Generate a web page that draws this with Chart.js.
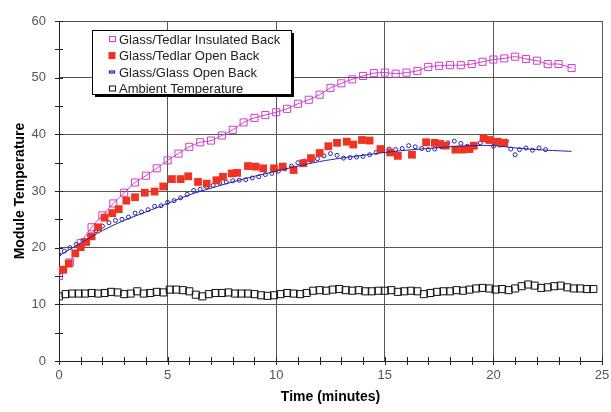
<!DOCTYPE html>
<html>
<head>
<meta charset="utf-8">
<script src="https://cdn.jsdelivr.net/npm/chart.js@4.4.1/dist/chart.umd.min.js"></script>
<style>
  html, body { margin: 0; padding: 0; background: #fff; }
  #wrap { width: 611px; height: 412px; }
</style>
</head>
<body>
<div id="wrap"><canvas id="tempChart" width="611" height="412"></canvas></div>
<script>
// Module temperature readings (deg C) against time (minutes)
const insulatedTime = [0, 0.5, 1, 1.5, 2, 2.5, 3, 3.5, 4, 4.5, 5, 5.5, 6, 6.5, 7, 7.5, 8, 8.5, 9, 9.5,
    10, 10.5, 11, 11.5, 12, 12.5, 13, 13.5, 14, 14.5, 15, 15.5, 16, 16.5, 17, 17.5, 18, 18.5, 19, 19.5,
    20, 20.5, 21, 21.5, 22, 22.5, 23, 23.6];
const insulatedTemp = [15.0, 17.4, 20.8, 23.6, 25.7, 27.8, 29.7, 31.5, 32.7, 34.0, 35.4, 36.6, 37.8, 38.6, 38.9, 39.8, 40.8, 42.1, 42.9, 43.4,
    43.9, 44.5, 45.4, 46.1, 47.0, 48.2, 49.0, 49.7, 50.3, 50.8, 50.9, 50.7, 50.9, 51.2, 51.9, 52.1, 52.2, 52.2, 52.4, 52.8,
    53.2, 53.4, 53.7, 53.3, 53.0, 52.4, 52.4, 51.7];

const openTime = [0, 0.2, 0.45, 0.75, 1, 1.25, 1.5, 1.8, 2.1, 2.45, 2.75, 3.1, 3.5, 3.95, 4.4, 4.8, 5.2, 5.6, 5.95, 6.4,
    6.8, 7.25, 7.55, 7.95, 8.2, 8.7, 9.05, 9.4, 9.9, 10.3, 10.8, 11.25, 11.6, 12, 12.4, 12.8, 13.25, 13.55, 13.95, 14.3,
    14.8, 15.25, 15.6, 16.25, 16.9, 17.3, 17.55, 17.8, 18.25, 18.6, 18.9, 19.1, 19.55, 19.85, 20.2, 20.5];
const openTemp = [16.1, 16.1, 17.2, 19.0, 20.1, 21.0, 22.0, 23.6, 25.3, 26.1, 26.8, 28.3, 28.9, 29.7, 29.9, 30.8, 32.1, 32.1, 32.6, 31.6,
    31.3, 31.9, 32.5, 33.1, 33.2, 34.4, 34.3, 34.0, 34.0, 34.3, 33.7, 34.9, 35.8, 36.7, 37.9, 38.5, 38.7, 38.2, 39.0, 38.9,
    37.4, 36.8, 36.2, 36.4, 38.6, 38.5, 38.3, 38.0, 37.3, 37.3, 37.4, 38.0, 39.3, 39.0, 38.7, 38.5];

const glassTime = [0, 0.25, 0.5, 0.8, 1.1, 1.4, 1.7, 2, 2.3, 2.6, 2.9, 3.2, 3.5, 3.8, 4.1, 4.4, 4.7, 5, 5.3, 5.6,
    5.9, 6.2, 6.5, 6.8, 7.1, 7.4, 7.7, 8, 8.3, 8.6, 8.9, 9.2, 9.5, 9.8, 10.1, 10.4, 10.7, 11, 11.3, 11.6,
    11.9, 12.2, 12.5, 12.8, 13.1, 13.4, 13.7, 14, 14.3, 14.6, 14.9, 15.2, 15.5, 15.8, 16.1, 16.4, 16.7, 17, 17.3, 17.6,
    17.9, 18.2, 18.5, 18.8, 19.1, 19.4, 19.7, 20, 20.3, 20.6, 20.8, 21, 21.2, 21.5, 21.8, 22.1, 22.4];
const glassTemp = [18.8, 19.4, 20.0, 20.6, 21.3, 22.1, 23.0, 23.8, 24.4, 24.8, 25.0, 25.4, 26.1, 26.3, 26.7, 27.3, 27.4, 28.0, 28.3, 28.8,
    29.4, 30.1, 30.3, 30.7, 31.0, 31.4, 31.6, 31.8, 31.9, 32.0, 32.3, 32.5, 32.9, 33.1, 33.5, 33.9, 34.4, 35.0, 35.3, 35.4,
    35.7, 36.2, 36.6, 36.3, 35.8, 35.9, 36.0, 36.1, 36.4, 36.8, 37.3, 37.4, 37.3, 37.5, 38.0, 37.8, 37.5, 37.3, 37.4, 37.8,
    38.5, 38.8, 38.4, 37.9, 38.2, 38.5, 38.8, 37.9, 38.1, 38.8, 37.4, 36.4, 37.3, 37.6, 37.2, 37.6, 37.3];

// smoothed glass/glass curve
const glassFitTime = [0, 1, 2, 3, 4, 5, 6, 7, 8, 9, 10, 11, 12, 13, 14, 15, 16, 17, 18, 19, 20, 21, 22, 23, 23.6];
const glassFitTemp = [18.6, 20.8, 23.0, 24.8, 26.3, 27.8, 29.3, 30.5, 31.6, 32.6, 33.5, 34.4, 35.2, 35.8, 36.3, 36.8, 37.2, 37.5, 37.8, 38.0, 38.0, 37.6, 37.3, 37.1, 37.0];

const ambientTime = [0, 0.3, 0.6, 0.9, 1.2, 1.5, 1.8, 2.1, 2.4, 2.7, 3, 3.3, 3.6, 3.9, 4.2, 4.5, 4.8, 5.1, 5.4, 5.7,
    6, 6.3, 6.6, 6.9, 7.2, 7.5, 7.8, 8.1, 8.4, 8.7, 9, 9.3, 9.6, 9.9, 10.2, 10.5, 10.8, 11.1, 11.4, 11.7,
    12, 12.3, 12.6, 12.9, 13.2, 13.5, 13.8, 14.1, 14.4, 14.7, 15, 15.3, 15.6, 15.9, 16.2, 16.5, 16.8, 17.1, 17.4, 17.7,
    18, 18.3, 18.6, 18.9, 19.2, 19.5, 19.8, 20.1, 20.4, 20.7, 21, 21.3, 21.6, 21.9, 22.2, 22.5, 22.8, 23.1, 23.4, 23.7,
    24, 24.3, 24.6];
const ambientTemp = [11.4, 11.8, 11.9, 11.9, 11.9, 12.0, 11.9, 12.0, 12.2, 12.1, 11.8, 11.9, 12.3, 11.9, 12.0, 12.2, 12.1, 12.6, 12.6, 12.5,
    12.3, 11.7, 11.4, 11.8, 12.0, 12.0, 12.1, 11.9, 11.9, 11.9, 11.8, 11.6, 11.5, 11.6, 11.8, 12.0, 11.9, 11.8, 12.0, 12.4,
    12.5, 12.4, 12.6, 12.7, 12.5, 12.4, 12.5, 12.3, 12.3, 12.4, 12.4, 12.5, 12.2, 12.3, 12.4, 12.3, 11.8, 12.0, 12.2, 12.3,
    12.3, 12.5, 12.4, 12.6, 12.8, 12.9, 12.8, 12.6, 12.7, 12.5, 12.8, 13.2, 13.5, 13.3, 12.9, 13.0, 13.2, 13.3, 13.0, 12.8,
    12.8, 12.7, 12.7];

const xTicks = [0, 5, 10, 15, 20, 25];
const yTicks = [0, 10, 20, 30, 40, 50, 60];

const pts = (xs, ys) => xs.map((x, i) => ({ x: x, y: ys[i] }));

const MAGENTA = '#cc3fcc',
    RED = '#ee3322',
    BLUE = '#2222aa',
    BLACK = '#111111';

// minor tick marks across both axes (every minute / every 5 degrees)
const axisTicks = {
    id: 'axisTicks',
    afterDraw(chart) {
        const { ctx, chartArea, scales } = chart;
        ctx.save();
        ctx.strokeStyle = '#222';
        ctx.lineWidth = 1;
        ctx.beginPath();
        for (let t = 0; t <= 25; t++) {
            const x = Math.round(scales.x.getPixelForValue(t)) + 0.5;
            ctx.moveTo(x, chartArea.bottom - 4);
            ctx.lineTo(x, chartArea.bottom + 4);
        }
        for (let v = 0; v <= 60; v += 5) {
            const y = Math.round(scales.y.getPixelForValue(v)) + 0.5;
            ctx.moveTo(chartArea.left - 4, y);
            ctx.lineTo(chartArea.left + 4, y);
        }
        ctx.stroke();
        ctx.restore();
    }
};

// boxed legend with drop shadow inside the plot
const boxLegend = {
    id: 'boxLegend',
    afterDraw(chart) {
        const ctx = chart.ctx;
        const bx = 92, by = 30, bw = 199, bh = 64;
        ctx.save();
        ctx.fillStyle = '#000';
        ctx.fillRect(bx + 3, by + 3, bw, bh);
        ctx.fillStyle = '#fff';
        ctx.fillRect(bx, by, bw, bh);
        ctx.strokeStyle = '#000';
        ctx.lineWidth = 1;
        ctx.strokeRect(bx + 0.5, by + 0.5, bw, bh);

        const rows = chart.data.datasets.filter(d => !d.hideInLegend)
            .sort((a, b) => a.legendOrder - b.legendOrder);
        ctx.font = '13px "Liberation Sans", Arial, sans-serif';
        ctx.textBaseline = 'middle';
        rows.forEach((d, i) => {
            const y = by + 9 + i * 16.5;
            const mx = 112;
            if (d.pointStyle === 'circle') {
                ctx.strokeStyle = d.borderColor;
                ctx.lineWidth = 1.2;
                ctx.strokeRect(mx - 2.5, y - 1, 5, 2);
            } else {
                const s = d.legendFill ? 7 : 6;
                if (d.legendFill) {
                    ctx.fillStyle = d.borderColor;
                    ctx.fillRect(mx - s / 2, y - s / 2, s, s);
                } else {
                    ctx.strokeStyle = d.borderColor;
                    ctx.lineWidth = 1;
                    ctx.strokeRect(mx - 3 + 0.5, y - 3 + 0.5, s, s - 1);
                }
            }
            ctx.fillStyle = '#222';
            ctx.fillText(d.label, 119, y + 1);
        });
        ctx.restore();
    }
};

const ctx = document.getElementById('tempChart').getContext('2d');
const tempChart = new Chart(ctx, {
    type: 'scatter',
    data: {
        datasets: [
            {
                label: 'Ambient Temperature',
                legendOrder: 4,
                data: pts(ambientTime, ambientTemp),
                pointStyle: 'rect',
                pointRadius: 5,
                borderColor: BLACK,
                backgroundColor: 'rgba(0,0,0,0)',
                pointBorderWidth: 1
            },
            {
                label: 'fit',
                hideInLegend: true,
                data: pts(glassFitTime, glassFitTemp),
                showLine: true,
                pointRadius: 0,
                borderColor: BLUE,
                borderWidth: 1,
                tension: 0.4
            },
            {
                label: 'Glass/Tedlar Open Back',
                legendOrder: 2,
                legendFill: true,
                data: pts(openTime, openTemp),
                pointStyle: 'rect',
                pointRadius: 5.5,
                borderColor: RED,
                backgroundColor: RED,
                pointBorderWidth: 0
            },
            {
                label: 'Glass/Glass Open Back',
                legendOrder: 3,
                data: pts(glassTime, glassTemp),
                pointStyle: 'circle',
                pointRadius: 2,
                borderColor: BLUE,
                backgroundColor: 'rgba(0,0,0,0)',
                pointBorderWidth: 1
            },
            {
                label: 'Glass/Tedlar Insulated Back',
                legendOrder: 1,
                data: pts(insulatedTime, insulatedTemp),
                showLine: true,
                tension: 0.3,
                pointStyle: 'rect',
                pointRadius: 5,
                borderColor: MAGENTA,
                backgroundColor: 'rgba(0,0,0,0)',
                borderWidth: 1,
                pointBorderWidth: 1
            }
        ]
    },
    options: {
        responsive: false,
        animation: false,
        devicePixelRatio: 1,
        layout: { padding: { top: 21, right: 9, left: 0, bottom: 0 } },
        plugins: {
            legend: { display: false },
            tooltip: { enabled: false }
        },
        scales: {
            x: {
                type: 'linear',
                min: 0,
                max: 25,
                afterBuildTicks: s => { s.ticks = xTicks.map(v => ({ value: v })); },
                afterFit: s => { s.height = 51; s.paddingLeft = 0; s.paddingRight = 0; },
                grid: { color: '#555', lineWidth: 1, drawTicks: false },
                border: { color: '#222', width: 1 },
                ticks: {
                    padding: 7,
                    color: '#555',
                    font: { family: '"Liberation Sans", Arial, sans-serif', size: 13 }
                },
                title: {
                    display: true,
                    text: 'Time (minutes)',
                    color: '#000',
                    padding: { top: 0, bottom: 6 },
                    font: { family: '"Liberation Sans", Arial, sans-serif', size: 14, weight: 'bold' }
                }
            },
            y: {
                min: 0,
                max: 60,
                afterBuildTicks: s => { s.ticks = yTicks.map(v => ({ value: v })); },
                afterFit: s => { s.width = 59; s.paddingTop = 0; s.paddingBottom = 0; },
                grid: { color: '#555', lineWidth: 1, drawTicks: false },
                border: { color: '#222', width: 1 },
                ticks: {
                    padding: 13,
                    color: '#555',
                    font: { family: '"Liberation Sans", Arial, sans-serif', size: 13 }
                },
                title: {
                    display: true,
                    text: 'Module Temperature',
                    color: '#000',
                    padding: { top: 12, bottom: 0 },
                    font: { family: '"Liberation Sans", Arial, sans-serif', size: 14, weight: 'bold' }
                }
            }
        }
    },
    plugins: [axisTicks, boxLegend]
});
</script>
</body>
</html>
